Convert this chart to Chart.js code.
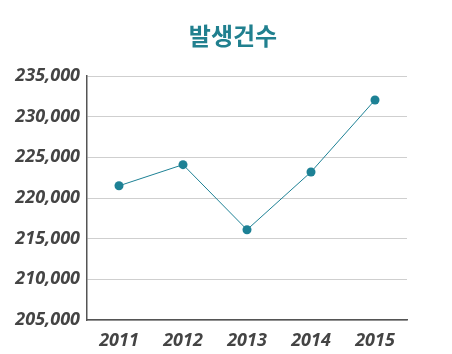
<!DOCTYPE html>
<html>
<head>
<meta charset="utf-8">
<script src="https://cdn.jsdelivr.net/npm/chart.js@4"></script>
<style>
  html, body { margin: 0; padding: 0; background: #fff; }
  #wrap { width: 452px; height: 354px; }
</style>
</head>
<body>
<div id="wrap"><canvas id="myChart" width="452" height="354"></canvas></div>
<script>
var titleText = '발생건수';
var years = ['2011', '2012', '2013', '2014', '2015'];
var counts = [221500, 224100, 216100, 223200, 232050];
var yMin = 205000;
var yMax = 235000;
var yStep = 5000;

var teal = '#1d8195';

// title drawn at a fixed spot, the built-in one centres on the wrong box
var titlePlugin = {
  id: 'fixedTitle',
  afterDraw: function(c) {
    var ctx = c.ctx;
    ctx.save();
    ctx.font = 'bold 24px "Noto Sans CJK KR"';
    ctx.fillStyle = '#21808f';
    ctx.textAlign = 'center';
    ctx.textBaseline = 'middle';
    ctx.fillText(titleText, 233, 36);
    ctx.restore();
  }
};

var tickFont = { family: '"Noto Sans"', size: 18, weight: 'bold', style: 'italic' };

var canvas = document.getElementById('myChart');
var ctx = canvas.getContext('2d');
var config = {
  type: 'line',
  data: {
    labels: years,
    datasets: [{
      data: counts,
      borderColor: teal,
      backgroundColor: teal,
      borderWidth: 1,
      pointRadius: 4.5,
      pointBackgroundColor: teal,
      pointBorderWidth: 0,
      tension: 0
    }]
  },
  options: {
    responsive: false,
    animation: false,
    layout: { padding: { top: 76, right: 45, left: 0, bottom: 0 } },
    plugins: { legend: { display: false }, title: { display: false }, tooltip: { enabled: false } },
    scales: {
      x: {
        offset: true,
        grid: { display: false, drawTicks: false },
        border: { display: true, color: '#555', width: 1.5 },
        ticks: { color: '#444', font: tickFont, padding: 10 },
        afterFit: function(s) { s.height = 34; }
      },
      y: {
        min: yMin,
        max: yMax,
        grid: { color: '#cfcfcf', drawTicks: false },
        border: { display: true, color: '#555', width: 1.5 },
        ticks: {
          stepSize: yStep,
          color: '#444',
          font: tickFont,
          padding: 7,
          callback: function(v) { return v.toLocaleString('en-US'); }
        },
        afterFit: function(s) { s.width = 87; }
      }
    }
  },
  plugins: [titlePlugin]
};

var chart = new Chart(ctx, config);
</script>
</body>
</html>
